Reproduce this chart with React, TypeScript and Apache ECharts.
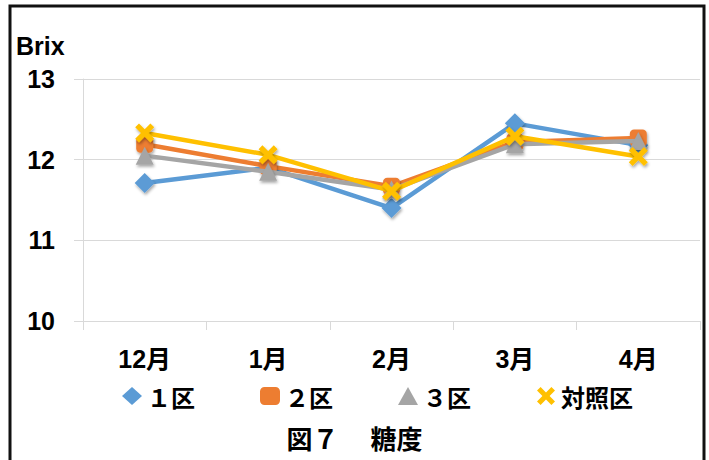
import React, { useEffect, useRef } from "react";
import * as echarts from "echarts";

const months = ["12月", "1月", "2月", "3月", "4月"];
const seriesNames = ["１区", "２区", "３区", "対照区"];
const ku1 = [11.71, 11.9, 11.4, 12.45, 12.18];
const ku2 = [12.19, 11.92, 11.67, 12.22, 12.27];
const ku3 = [12.05, 11.85, 11.63, 12.19, 12.23];
const taisho = [12.33, 12.06, 11.61, 12.29, 12.04];
const yTicks = { min: 10, max: 13, interval: 1 };

const X_PATH =
  "path://M0,4 L4,0 L10,6 L16,0 L20,4 L14,10 L20,16 L16,20 L10,14 L4,20 L0,16 L6,10 Z";

const colors = ["#5B9BD5", "#ED7D31", "#A5A5A5", "#FFC000"];
const symbols = ["diamond", "roundRect", "triangle", X_PATH];
const sizes = [20, 17, 18, 19];
const values = [ku1, ku2, ku3, taisho];
const legendLefts = [122, 260, 398, 537];

const FONT = "'Liberation Sans', 'Noto Sans CJK JP', sans-serif";
const CJK = "'Noto Sans CJK JP', 'Liberation Sans', sans-serif";

export default function App() {
  const ref = useRef<HTMLDivElement>(null);
  useEffect(() => {
    if (!ref.current) return;
    const chart = echarts.init(ref.current, null, { renderer: "svg" });
    const series = seriesNames.map((name, i) => ({
      name,
      type: "line",
      data: values[i],
      symbol: symbols[i],
      symbolSize: sizes[i],
      showSymbol: true,
      lineStyle: { width: 4.5, color: colors[i] },
      itemStyle: {
        color: colors[i],
        borderWidth: 0,
        shadowBlur: 3,
        shadowColor: "rgba(0,0,0,0.35)",
        shadowOffsetX: 1,
        shadowOffsetY: 2,
      },
      z: 2 + i,
    }));
    const legends = seriesNames.map((name, i) => ({
      data: [
        {
          name,
          icon: symbols[i],
          itemStyle: { color: colors[i], borderWidth: 0 },
        },
      ],
      left: legendLefts[i],
      top: 384,
      padding: 0,
      itemWidth: 20,
      itemHeight: 18,
      itemGap: 0,
      selectedMode: false,
      textStyle: {
        fontSize: 24,
        fontWeight: "bold",
        color: "#000",
        fontFamily: CJK,
        padding: [0, 0, 0, 0],
      },
    }));
    chart.setOption({
      animation: false,
      backgroundColor: "#fff",
      grid: { left: 83, right: 9, top: 79, bottom: 139, containLabel: false },
      title: {
        text: "図７　 糖度",
        left: "center",
        top: 419,
        textStyle: {
          fontSize: 26,
          fontWeight: "bold",
          color: "#000",
          fontFamily: CJK,
        },
      },
      legend: legends,
      xAxis: {
        type: "category",
        data: months,
        boundaryGap: true,
        axisLine: { show: true, lineStyle: { color: "#d9d9d9", width: 1 } },
        axisTick: { show: true, length: 9, lineStyle: { color: "#d9d9d9" } },
        axisLabel: {
          fontSize: 25,
          fontWeight: "bold",
          color: "#000",
          margin: 25,
          fontFamily: FONT,
        },
        splitLine: { show: false },
      },
      yAxis: {
        type: "value",
        min: yTicks.min,
        max: yTicks.max,
        interval: yTicks.interval,
        axisLine: { show: true, lineStyle: { color: "#d9d9d9", width: 1 } },
        axisTick: { show: true, length: 9, lineStyle: { color: "#d9d9d9" } },
        axisLabel: {
          fontSize: 25,
          fontWeight: "bold",
          color: "#000",
          margin: 28,
          fontFamily: FONT,
        },
        splitLine: { show: true, lineStyle: { color: "#d9d9d9", width: 1 } },
      },
      graphic: [
        {
          type: "rect",
          shape: { x: 10, y: 6, width: 694, height: 480 },
          style: { fill: "none", stroke: "#111", lineWidth: 3 },
          silent: true,
          z: 100,
        },
        {
          type: "text",
          left: 16,
          top: 33,
          style: {
            text: "Brix",
            fontSize: 25,
            fontWeight: "bold",
            fill: "#000",
            fontFamily: FONT,
          },
        },
      ],
      series,
    });
    return () => chart.dispose();
  }, []);
  return (
    <div
      ref={ref}
      style={{ position: "fixed", left: 0, top: 0, width: 709, height: 460 }}
    />
  );
}
